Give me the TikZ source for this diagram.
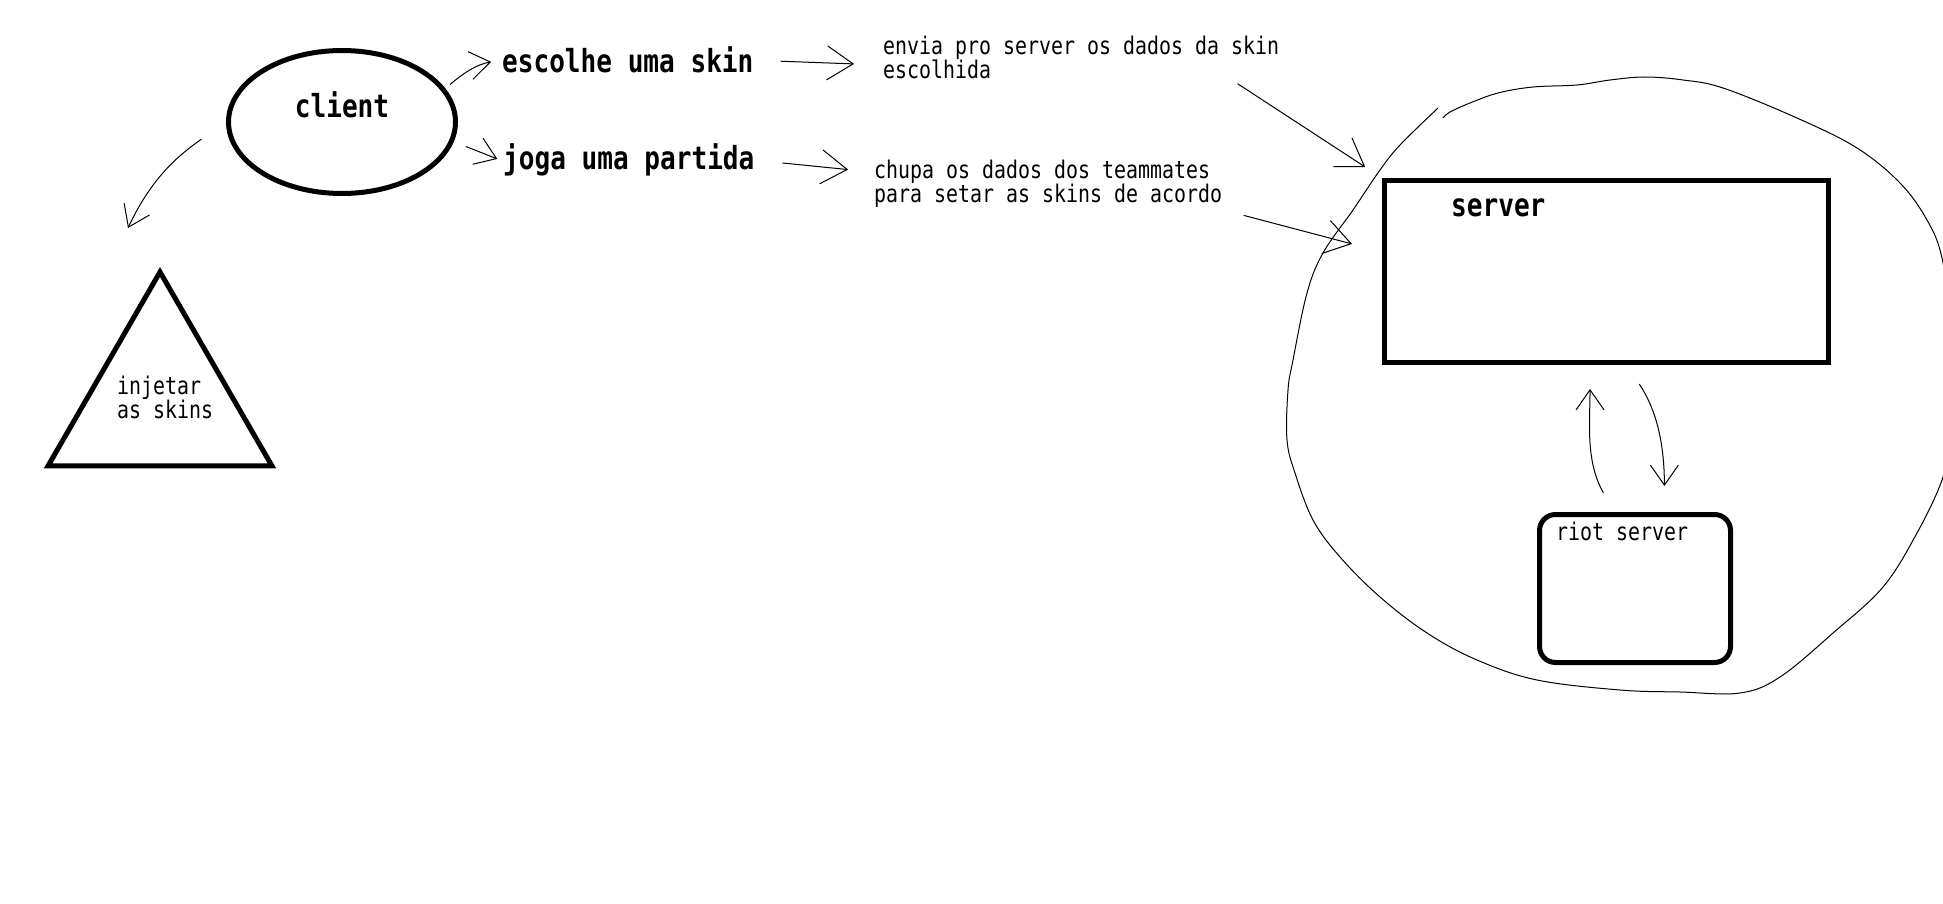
\documentclass[tikz,border=0pt]{standalone}
\usepackage{fontspec}
\newfontfamily\paintfont[FakeStretch=0.82]{DejaVu Sans Mono}
\usepackage{tikz}
\usetikzlibrary{positioning,arrows.meta,shapes.geometric}

\begin{document}
\begin{tikzpicture}[
  x=1pt, y=1pt,
  every node/.style={inner sep=2pt},
  big/.style={font=\paintfont\bfseries\fontsize{31.8}{32}\selectfont,anchor=base west},
  txt/.style={font=\paintfont\fontsize{24.3}{24}\selectfont},
  note/.style={txt,align=left,anchor=base west},
  heavy/.style={draw,line width=5pt},
  hand/.style={line width=1pt,-{Straight Barb[length=20pt,width=28pt]}},
  bighand/.style={line width=1pt,-{Straight Barb[length=26pt,width=34pt]}},
]
\useasboundingbox (0,0) rectangle (1943,-904);
\clip (0,0) rectangle (1943,-904);

% --- client side
\node[heavy,ellipse,minimum width=227pt,minimum height=143pt] (client) at (342,-122) {};
\node[big,anchor=base] (clienttxt) at (342,-118) {client};
\node[heavy,regular polygon,regular polygon sides=3,
      minimum size=258.6pt] (inject) at (160,-401.3) {};
\node[note] (injtxt) at (115,-418) {injetar\\as skins};
\coordinate (injtip) at ([xshift=-32pt,yshift=39pt]inject.corner 1);

% --- what the client does
\node[big] (pick) at (500,-73) {escolhe uma skin};
\node[big] (play) at (501,-170) {joga uma partida};
% (base of a two-line note is its last line)
\node[note] (send) at (881,-79) {envia pro server os dados da skin\\escolhida};
\node[note] (pull) at (872,-203) {chupa os dados dos teammates\\para setar as skins de acordo};

% --- server side
\node[heavy,minimum width=444pt,minimum height=182pt] (srv) at (1606.5,-271.5) {};
\node[big] (srvtxt) at (1449,-217) {server};
\node[heavy,rounded corners=16pt,minimum width=191pt,minimum height=148pt] (riot) at (1635,-588.5) {};
\node[note] (riottxt) at (1554,-540) {riot server};

% hand drawn blob round both servers
\draw[line width=1pt] plot[smooth,tension=0.6] coordinates {
  (1443,-118) (1450,-112) (1470,-103) (1498,-93) (1533,-87) (1577,-85)
  (1610,-80) (1645,-77) (1683,-80) (1723,-88) (1797,-118) (1857,-148)
  (1900,-183) (1927,-220) (1942,-258) (1952,-330) (1955,-400) (1950,-440)
  (1942,-480) (1917,-533) (1883,-587) (1833,-633) (1780,-677) (1740,-693)
  (1680,-692) (1620,-690) (1537,-680) (1477,-660) (1427,-633) (1380,-597)
  (1340,-557) (1313,-520) (1295,-473) (1287,-440) (1288,-390) (1293,-360)
  (1307,-293) (1323,-253) (1353,-210) (1380,-170) (1400,-145) (1438,-108)};

% --- arrows
\draw[hand,shorten <=6pt,shorten >=9pt] (client.18) to[out=40,in=190] (pick.west);
\draw[hand,shorten <=13pt,shorten >=4pt] (client.-10) -- (play.west);
\draw[hand,shorten <=30pt] (client.west) to[out=215,in=65] (injtip);
\draw[bighand,shorten <=25pt,shorten >=27pt] (pick.east) -- (send.182);
\draw[bighand,shorten <=26pt,shorten >=24pt] (play.east) -- (pull.176);
\draw[bighand,shorten <=4pt,shorten >=20pt] ([xshift=-47pt]send.south east) -- (srv.north west);
\draw[bighand,shorten <=20pt,shorten >=31pt] (pull.south east) -- (srv.175);
\draw[hand,shorten <=22pt,shorten >=24pt] (riot.105) to[out=120,in=-90] (srv.260);
\draw[hand,shorten <=23pt,shorten >=26pt] (srv.282) to[out=-56,in=90] (riot.69);

\end{tikzpicture}
\end{document}
